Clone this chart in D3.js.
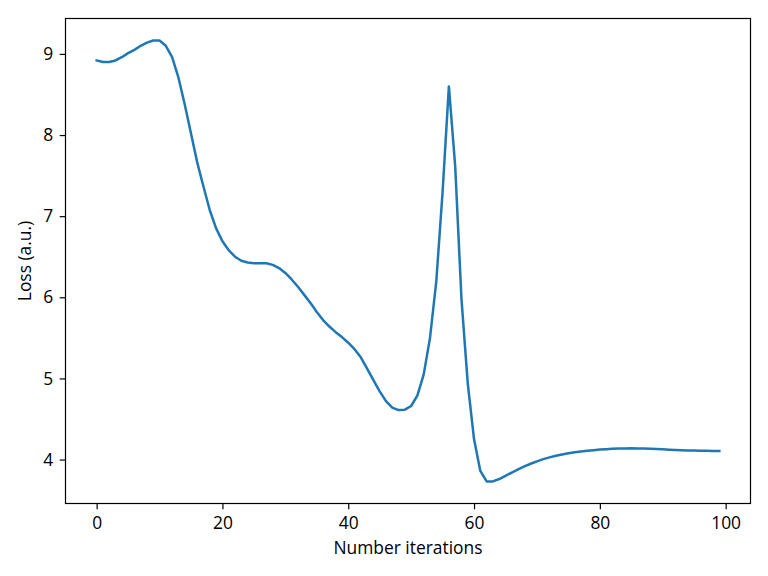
<!DOCTYPE html>
<html><head><meta charset="utf-8">
<script src="https://cdn.jsdelivr.net/npm/d3@7"></script>
<style>body{margin:0;background:#fff}svg{display:block}text{font-family:"Open Sans","Noto Sans",sans-serif}</style>
</head><body>
<svg id="c" width="768" height="576"></svg>
<script>
const iterations = d3.range(100);
const loss = [
 8.92, 8.90, 8.90, 8.92, 8.96, 9.01, 9.05, 9.10, 9.14, 9.165,
 9.165, 9.10, 8.96, 8.71, 8.38, 8.02, 7.66, 7.36, 7.07, 6.85,
 6.69, 6.58, 6.50, 6.45, 6.43, 6.42, 6.42, 6.42, 6.40, 6.36,
 6.30, 6.22, 6.13, 6.03, 5.93, 5.82, 5.72, 5.64, 5.57, 5.51,
 5.44, 5.36, 5.26, 5.12, 4.98, 4.84, 4.72, 4.64, 4.61, 4.615,
 4.66, 4.79, 5.05, 5.50, 6.20, 7.30, 8.60, 7.62, 5.98, 4.94,
 4.25, 3.86, 3.73, 3.73, 3.76, 3.80, 3.84, 3.88, 3.915, 3.948,
 3.978, 4.005, 4.027, 4.046, 4.063, 4.077, 4.089, 4.099, 4.108, 4.116,
 4.123, 4.128, 4.132, 4.135, 4.137, 4.138, 4.137, 4.135, 4.132, 4.129,
 4.126, 4.122, 4.119, 4.116, 4.113, 4.111, 4.109, 4.107, 4.106, 4.105
];
const xTicks = [0, 20, 40, 60, 80, 100];
const yTicks = [4, 5, 6, 7, 8, 9];
const xLabel = "Number iterations";
const yLabel = "Loss (a.u.)";

const FS = 17.4;
const L = 65.5, R = 750.5, T = 18.5, B = 503.5;
const svg = d3.select("#c");
const n = iterations.length;
const xpad = (n - 1) * 0.05;
const x = d3.scaleLinear().domain([-xpad, n - 1 + xpad]).range([L, R]);
const [mn, mx] = d3.extent(loss);
const yp = (mx - mn) * 0.05;
const y = d3.scaleLinear().domain([mn - yp, mx + yp]).range([B, T]);

const line = d3.line().x((d, i) => x(iterations[i])).y(d => y(d));
svg.append("path").datum(loss).attr("d", line)
  .attr("fill", "none").attr("stroke", "#1f77b4").attr("stroke-width", 2.5)
  .attr("stroke-linejoin", "round").attr("stroke-linecap", "square");

const xa = svg.append("g").attr("transform", `translate(0,${B})`)
  .call(d3.axisBottom(x).tickValues(xTicks).tickSize(5.8).tickPadding(7).tickFormat(d3.format("d")));
const ya = svg.append("g").attr("transform", `translate(${L},0)`)
  .call(d3.axisLeft(y).tickValues(yTicks).tickSize(5.8).tickPadding(6.5).tickFormat(d3.format("d")));
[xa, ya].forEach(a => {
  a.select(".domain").remove();
  a.selectAll("line").attr("stroke", "#000").attr("stroke-width", 1.2);
  a.selectAll("text").attr("font-size", FS).attr("fill", "#000").attr("font-family", "Open Sans, Noto Sans, sans-serif");
});

svg.append("rect").attr("x", L).attr("y", T).attr("width", R - L).attr("height", B - T)
  .attr("fill", "none").attr("stroke", "#000").attr("stroke-width", 1.2);

svg.append("text").attr("x", (L + R) / 2).attr("y", 554).attr("text-anchor", "middle")
  .attr("font-size", FS).text(xLabel);
svg.append("text").attr("transform", `translate(31,${(T + B) / 2}) rotate(-90)`)
  .attr("text-anchor", "middle").attr("font-size", FS).text(yLabel);
</script>
</body></html>
